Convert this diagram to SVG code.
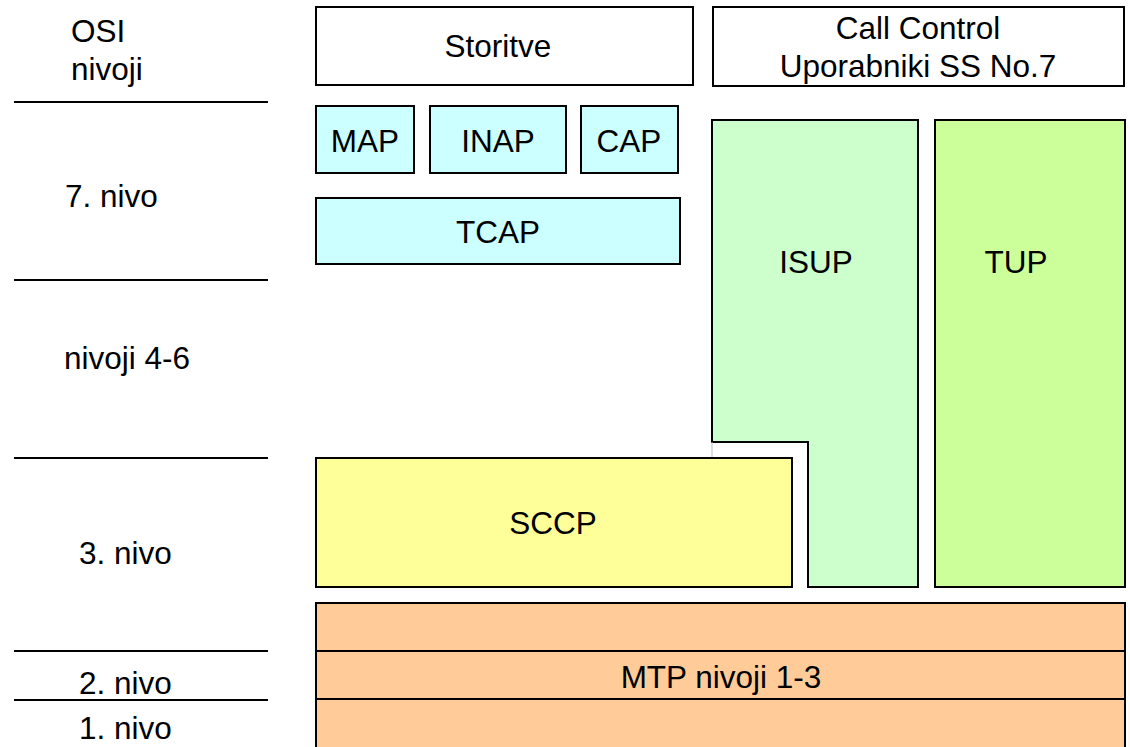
<svg xmlns="http://www.w3.org/2000/svg" width="1130" height="747" viewBox="0 0 1130 747">
  <style>
    .box { stroke: #000; stroke-width: 2; }
    .lbl { font-family: "Liberation Sans", Arial, sans-serif; font-size: 31.5px; fill: #000; }
    .c { text-anchor: middle; }
    .rule { stroke: #000; stroke-width: 2; }
  </style>
  <rect width="1130" height="747" fill="#fff"/>

  <!-- OSI level column -->
  <g id="osi-levels">
    <text class="lbl" x="71" y="42">OSI</text>
    <text class="lbl" x="71" y="80">nivoji</text>
    <line class="rule" x1="14" y1="102" x2="268" y2="102"/>
    <text class="lbl" x="65" y="207">7. nivo</text>
    <line class="rule" x1="14" y1="280" x2="268" y2="280"/>
    <text class="lbl" x="64" y="369">nivoji 4-6</text>
    <line class="rule" x1="14" y1="458" x2="268" y2="458"/>
    <text class="lbl" x="79" y="564">3. nivo</text>
    <line class="rule" x1="14" y1="651" x2="268" y2="651"/>
    <text class="lbl" x="79" y="694">2. nivo</text>
    <line class="rule" x1="14" y1="700" x2="268" y2="700"/>
    <text class="lbl" x="79" y="739">1. nivo</text>
  </g>

  <g id="storitve">
    <rect class="box" x="316" y="7" width="377" height="78" fill="#fff"/>
    <text class="lbl c" x="498" y="57">Storitve</text>
  </g>

  <g id="call-control">
    <rect class="box" x="713" y="7" width="411" height="79" fill="#fff"/>
    <text class="lbl c" x="918" y="39">Call Control</text>
    <text class="lbl c" x="918" y="77">Uporabniki SS No.7</text>
  </g>

  <g id="map">
    <rect class="box" x="316" y="106" width="98" height="67" fill="#CCFFFF"/>
    <text class="lbl c" x="365" y="152">MAP</text>
  </g>
  <g id="inap">
    <rect class="box" x="430" y="106" width="136" height="67" fill="#CCFFFF"/>
    <text class="lbl c" x="498" y="152">INAP</text>
  </g>
  <g id="cap">
    <rect class="box" x="581" y="106" width="97" height="67" fill="#CCFFFF"/>
    <text class="lbl c" x="629" y="152">CAP</text>
  </g>
  <g id="tcap">
    <rect class="box" x="316" y="198" width="364" height="66" fill="#CCFFFF"/>
    <text class="lbl c" x="498" y="243">TCAP</text>
  </g>

  <g id="isup">
    <path class="box" d="M712 120 H918 V587 H808 V442 H712 Z" fill="#CCFFCC"/>
    <line x1="712" y1="442" x2="712" y2="458" stroke="#bbb" stroke-width="1"/>
    <text class="lbl c" x="816" y="273">ISUP</text>
  </g>

  <g id="tup">
    <rect class="box" x="935" y="120" width="190" height="467" fill="#CCFF99"/>
    <text class="lbl c" x="1016" y="273">TUP</text>
  </g>

  <g id="sccp">
    <rect class="box" x="316" y="458" width="476" height="129" fill="#FFFF99"/>
    <text class="lbl c" x="553" y="534">SCCP</text>
  </g>

  <g id="mtp">
    <rect class="box" x="316" y="603" width="809" height="146" fill="#FFCC99"/>
    <line class="rule" x1="316" y1="651" x2="1125" y2="651"/>
    <line class="rule" x1="316" y1="699" x2="1125" y2="699"/>
    <text class="lbl c" x="721" y="688">MTP nivoji 1-3</text>
  </g>

  <g id="connectors"/>
</svg>
